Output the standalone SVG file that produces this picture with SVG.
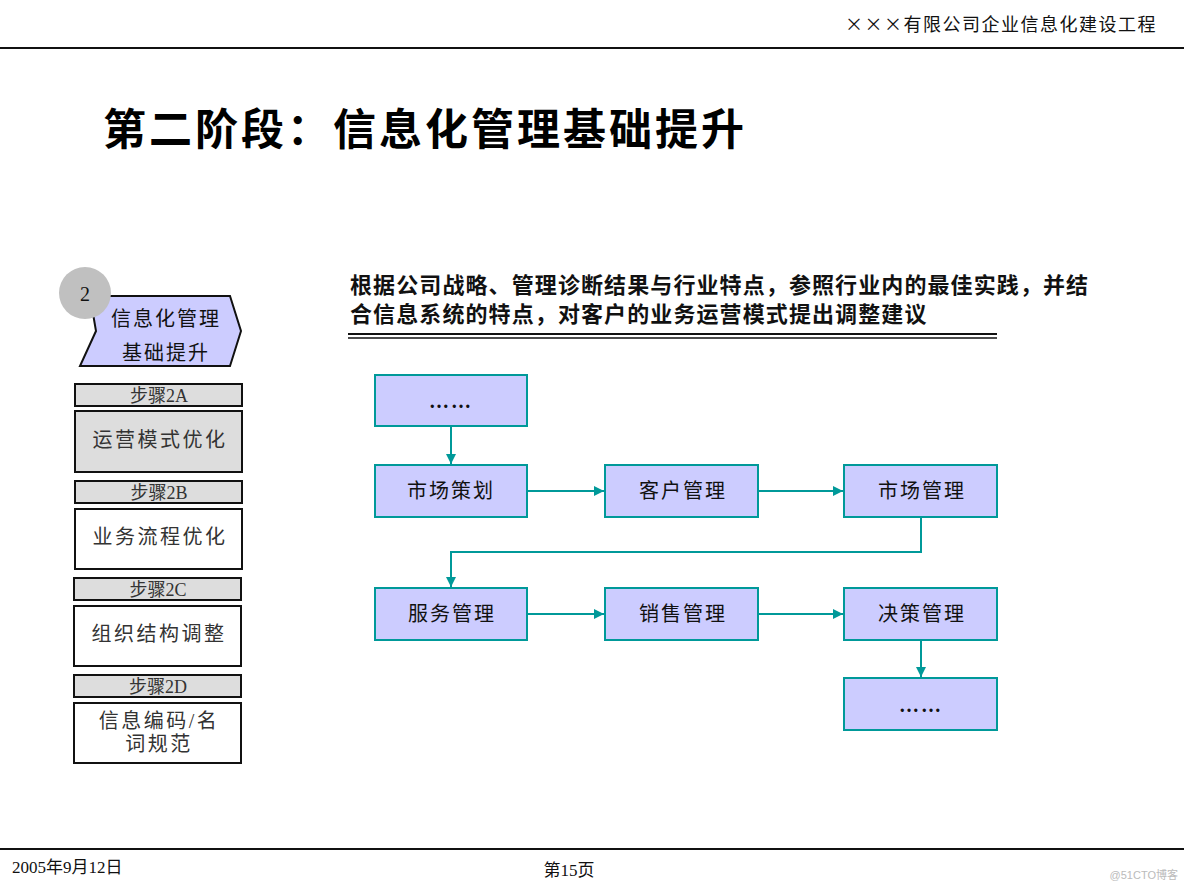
<svg xmlns="http://www.w3.org/2000/svg" width="1184" height="888" viewBox="0 0 1184 888">
<defs>
<style>
.cjk{font-family:"Liberation Serif","Noto Sans CJK SC",serif}
.flow{fill:#ccccff;stroke:#009999;stroke-width:2}
.ft{font-family:"Liberation Serif","Noto Sans CJK SC",serif;font-size:20px;fill:#111;text-anchor:middle;letter-spacing:2px}
.hdr{fill:#dddddd;stroke:#111;stroke-width:2}
.box{stroke:#111;stroke-width:2}
.st{font-family:"Liberation Serif","Noto Sans CJK SC",serif;font-size:18px;fill:#333;text-anchor:middle}
.bt{font-family:"Liberation Serif","Noto Sans CJK SC",serif;font-size:20px;fill:#333;text-anchor:middle;letter-spacing:2.5px}
.con{fill:none;stroke:#009999;stroke-width:2}
</style>
<marker id="arr" viewBox="0 0 10 10" refX="10" refY="5" markerWidth="5" markerHeight="5" orient="auto" markerUnits="strokeWidth">
<path d="M0,0 L10,5 L0,10 z" fill="#009999"/>
</marker>
</defs>
<rect width="1184" height="888" fill="#ffffff"/>
<g id="header">
<text x="1157" y="31" font-family="Noto Sans CJK SC, sans-serif" font-size="18" text-anchor="end" letter-spacing="1.5" fill="#111">×××有限公司企业信息化建设工程</text>
<line x1="0" y1="48" x2="1184" y2="48" stroke="#111" stroke-width="2"/>
</g>
<g id="title">
<text x="103" y="145" class="cjk" font-size="43" font-weight="bold" letter-spacing="3" fill="#000">第二阶段：信息化管理基础提升</text>
</g>
<g id="stage">
<polygon points="90,296 230,296 241,331 230,366 80,366 96,331" fill="#ccccff" stroke="#111" stroke-width="2"/>
<circle cx="85" cy="293" r="26" fill="#c0c0c0"/>
<text x="85" y="301" class="cjk" font-size="20" text-anchor="middle" fill="#111">2</text>
<text x="166" y="326" class="cjk" font-size="20" text-anchor="middle" letter-spacing="2" fill="#111">信息化管理</text>
<text x="166" y="360" class="cjk" font-size="20" text-anchor="middle" letter-spacing="2" fill="#111">基础提升</text>
</g>
<g id="step2A">
<rect x="75" y="384" width="167" height="22" class="hdr"/>
<text x="159" y="402" class="st">步骤2A</text>
<rect x="75" y="411" width="167" height="61" class="box" fill="#dddddd"/>
<text x="160" y="447" class="bt">运营模式优化</text>
</g>
<g id="step2B">
<rect x="75" y="481" width="167" height="22" class="hdr"/>
<text x="159" y="499" class="st">步骤2B</text>
<rect x="75" y="509" width="167" height="60" class="box" fill="#ffffff"/>
<text x="160" y="544" class="bt">业务流程优化</text>
</g>
<g id="step2C">
<rect x="74" y="578" width="167" height="22" class="hdr"/>
<text x="158" y="596" class="st">步骤2C</text>
<rect x="74" y="606" width="167" height="60" class="box" fill="#ffffff"/>
<text x="159" y="641" class="bt">组织结构调整</text>
</g>
<g id="step2D">
<rect x="74" y="675" width="167" height="22" class="hdr"/>
<text x="158" y="693" class="st">步骤2D</text>
<rect x="74" y="703" width="167" height="60" class="box" fill="#ffffff"/>
<text x="159" y="728" class="bt" letter-spacing="1.5">信息编码/名</text>
<text x="159" y="751" class="bt" letter-spacing="1.5">词规范</text>
</g>
<g id="desc">
<text x="350" y="293" class="cjk" font-size="22" font-weight="bold" letter-spacing="1.1" fill="#111">根据公司战略、管理诊断结果与行业特点，参照行业内的最佳实践，并结</text>
<text x="350" y="322" class="cjk" font-size="22" font-weight="bold" letter-spacing="1.1" fill="#111">合信息系统的特点，对客户的业务运营模式提出调整建议</text>
<line x1="348" y1="334" x2="997" y2="334" stroke="#111" stroke-width="2"/>
<line x1="348" y1="338" x2="997" y2="338" stroke="#111" stroke-width="1.5"/>
</g>
<g id="connectors">
<line x1="451" y1="426" x2="451" y2="464" class="con" marker-end="url(#arr)"/>
<line x1="527" y1="491" x2="604" y2="491" class="con" marker-end="url(#arr)"/>
<line x1="758" y1="491" x2="843" y2="491" class="con" marker-end="url(#arr)"/>
<polyline points="921,517 921,552 451,552 451,587" class="con" marker-end="url(#arr)"/>
<line x1="527" y1="614" x2="604" y2="614" class="con" marker-end="url(#arr)"/>
<line x1="758" y1="614" x2="843" y2="614" class="con" marker-end="url(#arr)"/>
<line x1="921" y1="640" x2="921" y2="677" class="con" marker-end="url(#arr)"/>
</g>
<g id="n_top">
<rect x="375" y="375" width="152" height="51" class="flow"/>
<text x="451" y="408" class="ft" font-weight="bold" letter-spacing="0">……</text>
</g>
<g id="n_scch">
<rect x="375" y="465" width="152" height="52" class="flow"/>
<text x="451" y="498" class="ft">市场策划</text>
</g>
<g id="n_khgl">
<rect x="605" y="465" width="153" height="52" class="flow"/>
<text x="683" y="498" class="ft" letter-spacing="4">客户管理</text>
</g>
<g id="n_scgl">
<rect x="844" y="465" width="153" height="52" class="flow"/>
<text x="922" y="498" class="ft">市场管理</text>
</g>
<g id="n_fwgl">
<rect x="375" y="588" width="152" height="52" class="flow"/>
<text x="452" y="621" class="ft">服务管理</text>
</g>
<g id="n_xsgl">
<rect x="605" y="588" width="153" height="52" class="flow"/>
<text x="683" y="621" class="ft">销售管理</text>
</g>
<g id="n_jcgl">
<rect x="844" y="588" width="153" height="52" class="flow"/>
<text x="922" y="621" class="ft">决策管理</text>
</g>
<g id="n_bottom">
<rect x="844" y="678" width="153" height="52" class="flow"/>
<text x="921" y="712" class="ft" font-weight="bold" letter-spacing="0">……</text>
</g>
<g id="footer">
<line x1="0" y1="849" x2="1184" y2="849" stroke="#111" stroke-width="2"/>
<text x="12" y="873" class="cjk" font-size="17" fill="#111">2005年9月12日</text>
<text x="569" y="876" class="cjk" font-size="17" text-anchor="middle" fill="#111">第15页</text>
<text x="1178" y="879" font-family="Liberation Sans, Noto Sans CJK SC, sans-serif" font-size="11" text-anchor="end" fill="#bbbbbb">@51CTO博客</text>
</g>
</svg>
